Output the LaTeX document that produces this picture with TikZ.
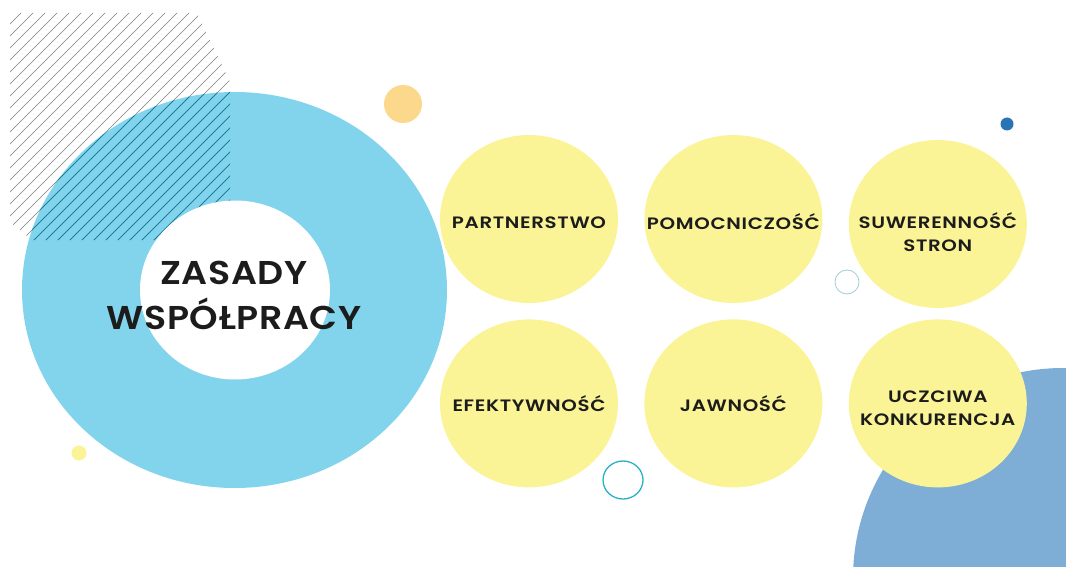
\documentclass[tikz,border=0pt]{standalone}
\usepackage{fontspec}
\setmainfont{Poppins}
\newfontfamily\titlefont{Poppins SemiBold}[FakeStretch=1.1, LetterSpace=2]
\newfontfamily\labelfont{Poppins SemiBold}[FakeStretch=1.2, LetterSpace=4]
\usetikzlibrary{shapes.geometric, positioning}
\newcommand{\toppad}[1]{\rule{0pt}{#1}}

\definecolor{ringblue}{RGB}{130,212,236}
\definecolor{softyellow}{RGB}{250,244,150}
\definecolor{slateblue}{RGB}{126,173,214}
\definecolor{peach}{RGB}{252,216,140}
\definecolor{dotblue}{RGB}{42,116,182}
\definecolor{tealline}{RGB}{38,176,196}
\definecolor{paleline}{RGB}{160,205,215}
\definecolor{hatchgray}{RGB}{125,125,125}
\definecolor{hatchteal}{RGB}{30,128,160}
\definecolor{inkdark}{RGB}{28,28,28}

\begin{document}
\begin{tikzpicture}[x=1pt, y=-1pt,
    principle/.style={ellipse, fill=softyellow, minimum width=178pt, minimum height=168pt,
        inner sep=-25pt, align=center, text=inkdark,
        font=\labelfont\fontsize{16.5}{23.5}\selectfont},
    hatchline/.style={line width=0.5pt}]
\useasboundingbox (0,0) rectangle (1066,567);

% hatched square, top left
\begin{scope}
    \clip (10,13) -- (197,13) -- (230,82) -- (230,240) -- (32,240) -- (10,222) -- cycle;
    \foreach \i in {-240,-228,...,230}
        \draw[hatchline, hatchgray] (\i,250) -- ++(250,-250);
\end{scope}

% big ring
\fill[ringblue] (234.5,290) ellipse [x radius=212.5, y radius=198];
\begin{scope}
    \clip (10,13) -- (197,13) -- (230,82) -- (230,240) -- (32,240) -- (10,222) -- cycle;
    \clip (234.5,290) ellipse [x radius=212.5, y radius=198];
    \foreach \i in {-240,-228,...,230}
        \draw[hatchline, hatchteal, line width=0.8pt] (\i,250) -- ++(250,-250);
\end{scope}
\fill[white] (235,290) ellipse [x radius=95, y radius=89.5];

\node[align=center, text=inkdark, font=\titlefont\fontsize{33}{45}\selectfont] (title) at (234,295) {ZASADY\\WSPÓŁPRACY};

% small decorations
\fill[peach] (403,104) circle (19);
\fill[dotblue] (1007,124) circle (6.5);
\fill[softyellow] (79,453) circle (7.5);
\draw[paleline, line width=0.8pt] (847,282) circle (12);
\draw[tealline, line width=1.3pt] (623,480) ellipse [x radius=20, y radius=19];
\fill[slateblue] (1063,578) circle (210);

% principles
\node[principle] (part) at (529,219) {\toppad{19pt}PARTNERSTWO};
\node[principle, right=26pt of part] (pomoc) {\toppad{21pt}POMOCNICZOŚĆ};
\node[principle, right=26pt of pomoc, yshift=-5pt] (suw) {\toppad{32pt}SUWERENNOŚĆ\\STRON};
\node[principle, below=16pt of part] (efekt) {EFEKTYWNOŚĆ};
\node[principle, right=26pt of efekt] (jawn) {JAWNOŚĆ};
\node[principle, right=26pt of jawn] (uczc) {\toppad{21.5pt}UCZCIWA\\KONKURENCJA};
\end{tikzpicture}
\end{document}
